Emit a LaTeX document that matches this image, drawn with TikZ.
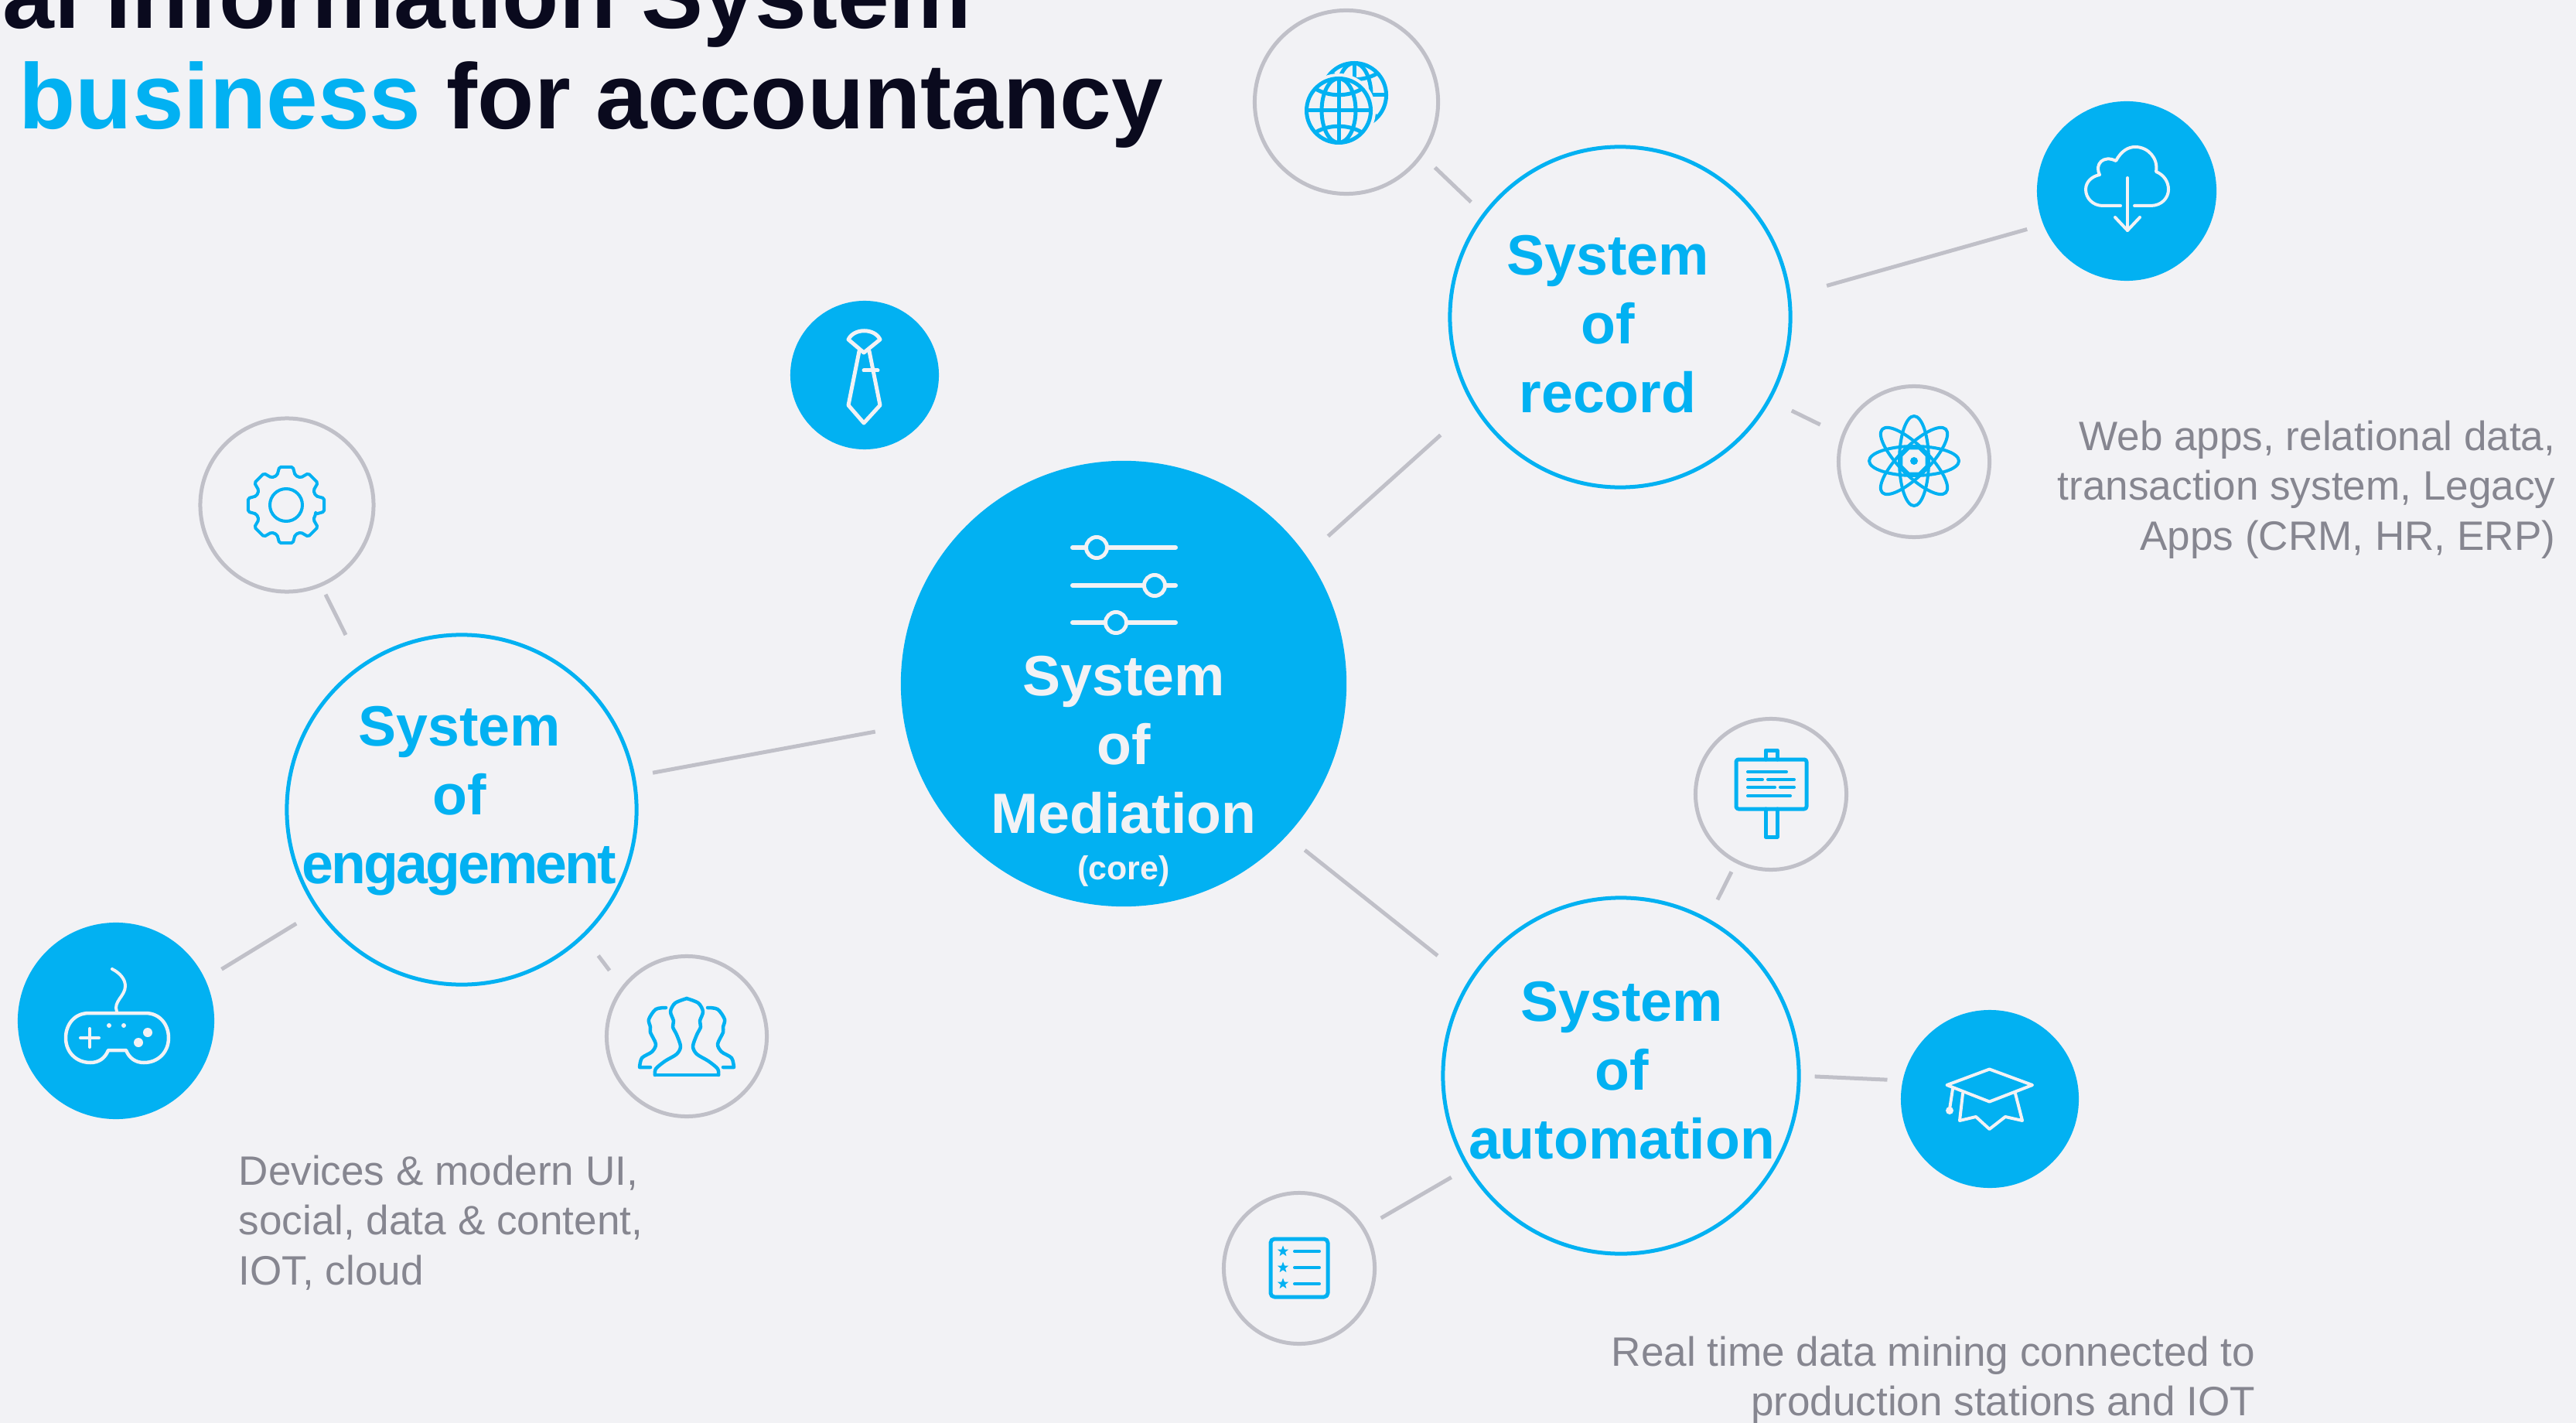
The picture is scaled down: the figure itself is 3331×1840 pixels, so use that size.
\documentclass[tikz,border=0pt]{standalone}
\definecolor{skyblue}{HTML}{02B1F2}
\definecolor{pagebg}{HTML}{F2F2F5}
\definecolor{linkgray}{HTML}{C0C0C8}
\definecolor{notegray}{HTML}{868690}
\definecolor{titleink}{HTML}{0A0A1E}
\usepackage{fontspec}
\setmainfont{Liberation Sans}
\usetikzlibrary{shapes.geometric}

\tikzset{
  sysring/.style={circle, draw=skyblue, line width=.05cm, inner sep=0pt, outer sep=0pt},
  iconring/.style={circle, draw=linkgray, line width=.05cm, inner sep=0pt, outer sep=0pt},
  iconfill/.style={circle, fill=skyblue, inner sep=0pt, outer sep=0pt},
  link/.style={draw=linkgray, line width=.05cm},
  systext/.style={align=center, text=skyblue, inner sep=0pt,
    font=\fontsize{20.9}{25.3}\selectfont\bfseries},
  notetext/.style={text=notegray, inner sep=0pt,
    font=\fontsize{15.1}{18.3}\selectfont},
  whiteline/.style={draw=pagebg, line width=.045cm, line cap=round, line join=round},
  blueline/.style={draw=skyblue, line width=.04cm, line cap=round, line join=round},
}

\begin{document}
\begin{tikzpicture}[x=.01cm, y=.01cm]
  \useasboundingbox (0,0) rectangle (3331,-1840);
  \clip (0,0) rectangle (3331,-1840);
  \fill[pagebg] (0,0) rectangle (3331,-1840);

  % title, cut off by the page
  \node[anchor=base west, inner sep=0pt, text=titleink, font=\fontsize{34.1}{40}\selectfont\bfseries]
    (titletop) at (3,-37) {al Information System};
  \node[anchor=base west, inner sep=0pt, text=titleink, font=\fontsize{34.1}{40}\selectfont\bfseries]
    (titlemain) at (24,-167) {\textcolor{skyblue}{business} for accountancy};

  % main circles
  \node[iconfill, minimum size=5.76cm] (core) at (1453,-884) {};
  \node[sysring, minimum size=4.40cm] (record) at (2095,-410) {};
  \node[sysring, minimum size=4.52cm] (engagement) at (597,-1047) {};
  \node[sysring, minimum size=4.60cm] (automation) at (2096,-1391) {};

  % small circles
  \node[iconring, minimum size=2.37cm] (globe) at (1741,-132) {};
  \node[iconfill, minimum size=2.32cm] (cloud) at (2750,-247) {};
  \node[iconring, minimum size=1.95cm] (atom) at (2475,-597) {};
  \node[iconring, minimum size=2.24cm] (gear) at (371,-653) {};
  \node[iconfill, minimum size=2.54cm] (game) at (150,-1320) {};
  \node[iconring, minimum size=2.07cm] (people) at (888,-1340) {};
  \node[iconfill, minimum size=1.92cm] (tie) at (1118,-485) {};
  \node[iconring, minimum size=1.95cm] (board) at (2290,-1027) {};
  \node[iconfill, minimum size=2.30cm] (cap) at (2573,-1421) {};
  \node[iconring, minimum size=1.95cm] (stars) at (1680,-1640) {};

  % connectors
  \draw[link, shorten <=.38cm, shorten >=.585cm] (core.35.5) -- (record.211.4);
  \draw[link, shorten <=.39cm, shorten >=.255cm] (core.191.9) -- (engagement.11.9);
  \draw[link, shorten <=.30cm, shorten >=.535cm] (core.-43.2) -- (automation.148);
  \draw[link, shorten <=.505cm, shorten >=.22cm] (record.7.7) -- (cloud.202.6);
  \draw[link, shorten <=.325cm, shorten >=.33cm] (record.-29) -- (atom.160.5);
  \draw[link, shorten <=.235cm, shorten >=.24cm] (record.143.6) -- (globe.-35.9);
  \draw[link, shorten <=.455cm, shorten >=.14cm] (engagement.125.4) -- (gear.-67);
  \draw[link, shorten <=.335cm, shorten >=.25cm] (engagement.215.4) -- (game.25.8);
  \draw[link, shorten <=.325cm, shorten >=.285cm] (engagement.-46) -- (people.143);
  \draw[link, shorten <=.295cm, shorten >=.15cm] (automation.61.7) -- (board.243.9);
  \draw[link, shorten <=.205cm, shorten >=.20cm] (automation.0.4) -- (cap.168.7);
  \draw[link, shorten <=.255cm, shorten >=.265cm] (automation.211.3) -- (stars.32.4);

  % labels
  \node[systext] (recordtext) at (2079,-419) {System\\of\\record};
  \node[systext] (engagementtext) at (594,-1036)
    {System\\of\\\addfontfeature{LetterSpace=-4}engagement};
  \node[systext] (automationtext) at (2097,-1384) {System\\of\\automation};
  \node[systext, text=pagebg] (coretext) at (1453,-963) {System\\of\\Mediation};
  \node[text=pagebg, inner sep=0pt, font=\fontsize{12.2}{14}\selectfont\bfseries]
    (coresub) at (1453,-1126) {(core)};

  \node[notetext, align=right, anchor=east] (recordnote) at (3305,-633)
    {Web apps, relational data,\\transaction system, Legacy\\Apps (CRM, HR, ERP)};
  \node[notetext, align=left, anchor=west] (engagementnote) at (308,-1581)
    {Devices \& modern UI,\\social, data \& content,\\IOT, cloud};
  \node[notetext, align=right, anchor=east] (automationnote) at (2917,-1785)
    {Real time data mining connected to\\production stations and IOT};

  % sliders
  \foreach \ly/\kx in {708/1418, 757/1493, 805/1443} {
    \draw[whiteline, line width=.06cm] (1387,-\ly) -- (1520,-\ly);
    \draw[whiteline, line width=.05cm, fill=skyblue] (\kx,-\ly) circle [radius=13.5];
  }

  % tie
  \draw[whiteline, line width=.05cm] (1097,-439) .. controls (1104,-424) and (1131,-424) .. (1138,-439)
    -- (1117,-456) -- cycle;
  \draw[whiteline, line width=.05cm] (1111,-454) -- (1097,-524) -- (1117,-547) -- (1138,-524) -- (1124,-454);
  \draw[whiteline, line width=.05cm] (1117,-479) -- (1135,-479);

  % globes
  \foreach \gx/\gy in {1751/123, 1731/143} {
    \fill[pagebg] (\gx,-\gy) circle [radius=48];
    \draw[blueline, line width=.05cm] (\gx,-\gy) circle [radius=41.5];
    \draw[blueline, line width=.05cm] (\gx,-\gy) ellipse [x radius=22, y radius=41.5];
    \draw[blueline, line width=.05cm] (\gx,-\gy+41.5) -- (\gx,-\gy-41.5);
    \draw[blueline, line width=.05cm] (\gx-41.5,-\gy) -- (\gx+41.5,-\gy);
    \draw[blueline, line width=.05cm] (\gx-28,-\gy+27) .. controls (\gx-11,-\gy+18) and (\gx+11,-\gy+18) .. (\gx+28,-\gy+27);
    \draw[blueline, line width=.05cm] (\gx-28,-\gy-27) .. controls (\gx-11,-\gy-18) and (\gx+11,-\gy-18) .. (\gx+28,-\gy-27);
  }

  % cloud
  \draw[whiteline, line width=.04cm] (2742,-266) -- (2719,-266)
    .. controls (2706,-266) and (2697,-256) .. (2697,-245)
    .. controls (2697,-235) and (2705,-228) .. (2715,-226)
    .. controls (2708,-212) and (2720,-200) .. (2736,-208)
    .. controls (2743,-195) and (2752,-190) .. (2761,-190)
    .. controls (2778,-190) and (2791,-205) .. (2788,-222)
    .. controls (2798,-226) and (2804,-235) .. (2804,-245)
    .. controls (2804,-256) and (2795,-266) .. (2781,-266) -- (2760,-266);
  \draw[whiteline, line width=.04cm] (2751,-230) -- (2751,-298);
  \draw[whiteline, line width=.04cm] (2735,-281) -- (2751,-298) -- (2767,-281);

  % atom
  \foreach \ang in {0,45,90,135}
    \draw[blueline, rotate around={\ang:(2475,-596)}] (2475,-596) ellipse [x radius=58, y radius=19];
  \node[regular polygon, regular polygon sides=8, draw=skyblue, fill=pagebg, line width=.04cm,
    minimum size=.36cm, inner sep=0pt] (atomcore) at (2475,-596) {};
  \fill[skyblue] (atomcore) circle [radius=5];

  % gear
  \begin{scope}[shift={(370,-653)}]
    \draw[blueline, rounded corners=.02cm] (-17:40)
      \foreach \ang in {0,45,...,315} {
        -- (\ang-10:50) -- (\ang+10:50) -- (\ang+17:40) -- (\ang+28:40)
      } -- cycle;
    \draw[blueline] (0,0) circle [radius=21];
  \end{scope}

  % game pad
  \draw[whiteline] (115,-1310) -- (188,-1310)
    .. controls (207,-1310) and (218,-1325) .. (218,-1342)
    .. controls (218,-1360) and (205,-1374) .. (186,-1374)
    .. controls (175,-1374) and (167,-1368) .. (163,-1358) -- (140,-1358)
    .. controls (136,-1368) and (128,-1374) .. (117,-1374)
    .. controls (98,-1374) and (85,-1360) .. (85,-1342)
    .. controls (85,-1325) and (96,-1310) .. (115,-1310) -- cycle;
  \draw[whiteline, line width=.04cm] (151,-1308) .. controls (146,-1295) and (162,-1288) .. (162,-1275)
    .. controls (162,-1266) and (155,-1258) .. (145,-1253);
  \draw[whiteline, line width=.04cm] (104,-1342) -- (128,-1342);
  \draw[whiteline, line width=.04cm] (116,-1330) -- (116,-1354);
  \fill[pagebg] (141,-1326) circle [radius=3] (160,-1326) circle [radius=3]
    (191,-1335) circle [radius=6] (179,-1348) circle [radius=6];

  % people
  \foreach \sx in {1,-1} {
    \begin{scope}[shift={(888,0)}, xscale=\sx]
      \draw[blueline, line width=.045cm] plot[smooth] coordinates {(-41,-1390) (-40,-1382) (-28,-1372)
        (-13,-1363) (-8,-1353) (-13,-1338) (-18,-1328) (-17,-1320) (-21,-1308) (-15,-1297) (0,-1291)};
      \draw[blueline, line width=.045cm] (-41,-1390) -- (0,-1390);
      \draw[blueline, line width=.045cm] plot[smooth] coordinates {(-27,-1303) (-40,-1305) (-49,-1318)
        (-47,-1328) (-47,-1335) (-40,-1350) (-45,-1360) (-58,-1368) (-61,-1380)} -- (-47,-1380);
    \end{scope}
  }

  % sign board
  \draw[blueline, line width=.05cm, rounded corners=.03cm] (2245,-982) rectangle (2336,-1046);
  \draw[blueline, line width=.05cm] (2283,-982) -- (2283,-970) -- (2298,-970) -- (2298,-982);
  \draw[blueline, line width=.05cm] (2283,-1046) -- (2283,-1082) -- (2298,-1082) -- (2298,-1046);
  \draw[blueline] (2260,-998) -- (2310,-998) (2260,-1008) -- (2279,-1008) (2286,-1008) -- (2320,-1008)
    (2260,-1018) -- (2295,-1018) (2302,-1018) -- (2320,-1018) (2260,-1029) -- (2315,-1029);

  % graduation cap
  \draw[whiteline, line width=.04cm] (2517.5,-1403) -- (2572.5,-1382.5) -- (2628,-1403) -- (2572.5,-1424.5) -- cycle;
  \draw[whiteline, line width=.04cm] (2538,-1414) -- (2534,-1449) -- (2555,-1444) -- (2572.5,-1460)
    -- (2593,-1444) -- (2615,-1449) -- (2606,-1414);
  \draw[whiteline, line width=.04cm] (2525,-1408) -- (2521,-1434);
  \fill[pagebg] (2521,-1436) circle [radius=5];

  % star list
  \draw[blueline, line width=.05cm, rounded corners=.05cm] (1643,-1602) rectangle (1717,-1677);
  \foreach \ly [count=\i] in {1618,1639,1660} {
    \draw[blueline] (1674,-\ly) -- (1706,-\ly);
    \node[star, star points=5, star point ratio=2.4, fill=skyblue, inner sep=0pt, minimum size=.15cm]
      (star\i) at (1659,-\ly) {};
  }
\end{tikzpicture}
\end{document}
